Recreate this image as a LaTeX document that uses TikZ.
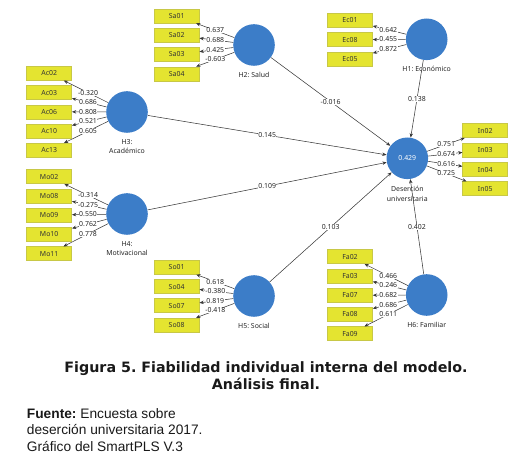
\documentclass[tikz,border=0pt]{standalone}
\usepackage{fontspec}
\usetikzlibrary{calc,arrows.meta}
\newfontfamily\diagfont{Noto Sans}
\newfontfamily\capfont{DejaVu Sans}
\newfontfamily\srcfont{Liberation Sans}
\definecolor{boxfill}{RGB}{228,228,48}
\definecolor{boxline}{RGB}{200,200,70}
\definecolor{lvblue}{RGB}{60,125,200}
\definecolor{linec}{RGB}{55,55,55}
\frenchspacing
\newcommand\ldg[3]{\draw[ld] (#1) -- (#2); \node[num] (v#2) at ($(#1)!0.5!(#2)$) {#3};}
\newcommand\pth[3]{\draw[ld] (#1) -- (#2); \node[num] (p#1) at ($(#1)!0.5!(#2)$) {#3};}
\begin{document}
\begin{tikzpicture}[x=0.75pt,y=-0.75pt,
  box/.style={draw=boxline,fill=boxfill,line width=0.4pt,minimum width=33.75pt,minimum height=10.5pt,inner sep=0pt,font=\diagfont\fontsize{5.2}{6}\selectfont,text=black!80},
  lv/.style={circle,fill=lvblue,minimum size=31.2pt,inner sep=0pt},
  ld/.style={-{Stealth[length=3.2pt,width=2.6pt]},draw=linec,line width=0.4pt},
  num/.style={font=\diagfont\fontsize{5.2}{6}\selectfont,fill=white,inner sep=0.3pt,text=black!85},
  lvtxt/.style={font=\diagfont\fontsize{5.2}{7}\selectfont,align=center,anchor=north,inner sep=0pt,text=black!85}]
\useasboundingbox (0,0) rectangle (514,463);
% latent variables
\node[lv] (h2) at (254,45) {};
\node[lv] (h1) at (426.7,39.3) {};
\node[lv] (h3) at (127,112) {};
\node[lv] (h4) at (127,214) {};
\node[lv] (h5) at (254,296) {};
\node[lv] (h6) at (426.7,295) {};
\node[lv,text=white,font=\diagfont\fontsize{5.2}{6}\selectfont] (d) at (407.3,158.3) {0.429};
% labels of latent variables
\node[lvtxt] (th2) at ($(h2.south)+(0,5.5)$) {H2: Salud};
\node[lvtxt] (th1) at ($(h1.south)+(0,6)$) {H1: Económico};
\node[lvtxt] (th3) at ($(h3.south)+(0,6)$) {H3:\\Académico};
\node[lvtxt] (th4) at ($(h4.south)+(0,6)$) {H4:\\Motivacional};
\node[lvtxt] (th5) at ($(h5.south)+(0,6)$) {H5: Social};
\node[lvtxt] (th6) at ($(h6.south)+(0,5.5)$) {H6: Familiar};
\node[lvtxt] (td) at ($(d.south)+(0,7)$) {Deserción\\universitaria};
% indicators
\node[box] (sa01) at (176.7,16) {Sa01};
\node[box] (sa02) at (176.7,35.3) {Sa02};
\node[box] (sa03) at (176.7,54.5) {Sa03};
\node[box] (sa04) at (176.7,73.8) {Sa04};
\node[box] (ec01) at (350,20.3) {Ec01};
\node[box] (ec08) at (350,39.7) {Ec08};
\node[box] (ec05) at (350,59) {Ec05};
\node[box] (ac02) at (49.2,73.3) {Ac02};
\node[box] (ac03) at (49.2,92.7) {Ac03};
\node[box] (ac06) at (49.2,111.8) {Ac06};
\node[box] (ac10) at (49.2,131) {Ac10};
\node[box] (ac13) at (49.2,150.3) {Ac13};
\node[box] (mo02) at (49.2,176.7) {Mo02};
\node[box] (mo08) at (49.2,196) {Mo08};
\node[box] (mo09) at (49.2,215) {Mo09};
\node[box] (mo10) at (49.2,234.3) {Mo10};
\node[box] (mo11) at (49.2,253.7) {Mo11};
\node[box] (so01) at (176.7,267.3) {So01};
\node[box] (so04) at (176.7,286.7) {So04};
\node[box] (so07) at (176.7,305.7) {So07};
\node[box] (so08) at (176.7,325) {So08};
\node[box] (fa02) at (350,256.7) {Fa02};
\node[box] (fa03) at (350,276) {Fa03};
\node[box] (fa07) at (350,295.3) {Fa07};
\node[box] (fa08) at (350,314.3) {Fa08};
\node[box] (fa09) at (350,333.7) {Fa09};
\node[box] (in02) at (485.2,130.7) {In02};
\node[box] (in03) at (485.2,150) {In03};
\node[box] (in04) at (485.2,169.7) {In04};
\node[box] (in05) at (485.2,188.7) {In05};
% structural paths
\pth{h2}{d}{-0.016}
\pth{h1}{d}{0.138}
\pth{h3}{d}{0.145}
\pth{h4}{d}{0.109}
\pth{h5}{d}{0.103}
\pth{h6}{d}{0.402}
% loadings
\ldg{h2}{sa01}{0.637}
\ldg{h2}{sa02}{0.688}
\ldg{h2}{sa03}{0.425}
\ldg{h2}{sa04}{-0.603}
\ldg{h1}{ec01}{0.642}
\ldg{h1}{ec08}{0.455}
\ldg{h1}{ec05}{0.872}
\ldg{h3}{ac02}{-0.320}
\ldg{h3}{ac03}{0.686}
\ldg{h3}{ac06}{0.808}
\ldg{h3}{ac10}{0.521}
\ldg{h3}{ac13}{0.605}
\ldg{h4}{mo02}{-0.314}
\ldg{h4}{mo08}{-0.275}
\ldg{h4}{mo09}{0.550}
\ldg{h4}{mo10}{0.762}
\ldg{h4}{mo11}{0.778}
\ldg{h5}{so01}{0.618}
\ldg{h5}{so04}{-0.380}
\ldg{h5}{so07}{0.819}
\ldg{h5}{so08}{-0.418}
\ldg{h6}{fa02}{0.466}
\ldg{h6}{fa03}{0.246}
\ldg{h6}{fa07}{0.682}
\ldg{h6}{fa08}{0.686}
\ldg{h6}{fa09}{0.611}
\ldg{d}{in02}{0.751}
\ldg{d}{in03}{0.674}
\ldg{d}{in04}{0.616}
\ldg{d}{in05}{0.725}
% caption
\node[font=\capfont\bfseries\fontsize{10.7}{12.75}\selectfont,align=center,text=black!90] (cap) at (266,375.5) {Figura 5. Fiabilidad individual interna del modelo.\\Análisis final.};
\node[font=\srcfont\fontsize{10.3}{12.4}\selectfont,align=left,anchor=west,inner sep=0pt,text=black!90] (src) at (26.7,429.7) {\textbf{Fuente:} Encuesta sobre\\deserción universitaria 2017.\\Gráfico del SmartPLS V.3};
\end{tikzpicture}
\end{document}
